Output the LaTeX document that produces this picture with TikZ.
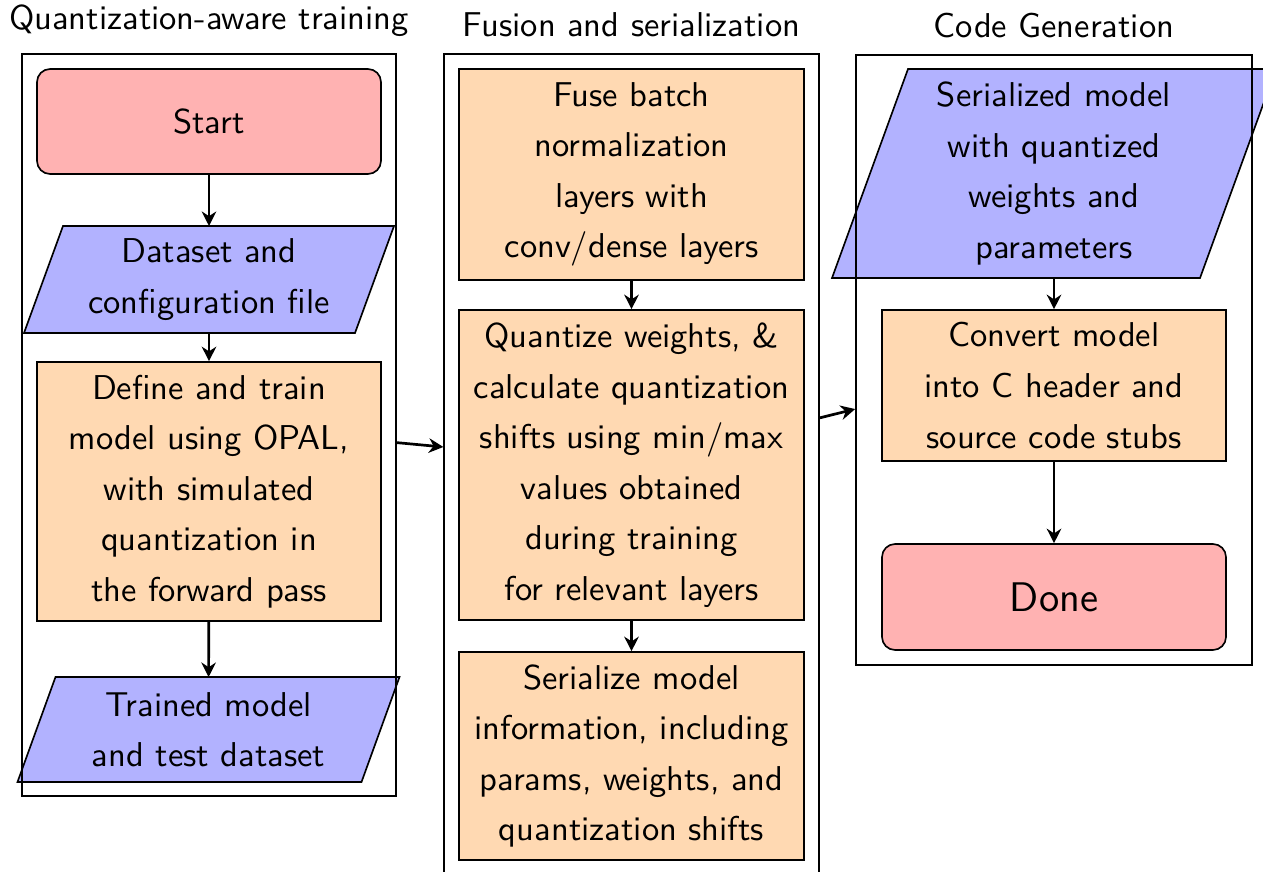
\documentclass[tikz,border=0pt]{standalone}
\usetikzlibrary{fit,arrows.meta,backgrounds}
% one drawing unit of the layout grid
\newcommand\pxu{0.29pt}
\newcommand\flowtxt{\sffamily\fontsize{10}{14.65}\selectfont}
\newcommand\bigtxt{\sffamily\fontsize{12}{14.65}\selectfont}
\tikzset{
  base/.style={draw, line width=0.48pt, align=center, inner sep=1pt, font=\flowtxt},
  startstop/.style={base, rectangle, rounded corners=3.8pt, fill=red!30, minimum width=344*\pxu},
  % data nodes: the node is the body of the parallelogram, the slanted outline is added behind it
  io/.style={base, rectangle, draw=none, outer sep=0pt},
  iofill/.style={draw, line width=0.48pt, fill=blue!30},
  process/.style={base, rectangle, fill=orange!30, minimum width=345*\pxu},
  group/.style={draw, line width=0.48pt, inner sep=14*\pxu},
  flow/.style={line width=0.78pt, -{Stealth[length=4.2pt,width=4.2pt]}},
  grouptitle/.style={font=\flowtxt, label distance=1.3pt}
}
% #1 node name, #2 horizontal offset of the slanted sides
\newcommand\dataoutline[2]{%
  \begin{pgfonlayer}{background}
    \path[iofill] ([xshift=#2/2]#1.north west) -- ([xshift=#2/2]#1.north east)
      -- ([xshift=-#2/2]#1.south east) -- ([xshift=-#2/2]#1.south west) -- cycle;
  \end{pgfonlayer}}
\begin{document}
\begin{tikzpicture}[x=\pxu, y=-\pxu]
\path[use as bounding box, clip] (0,0) rectangle (1263,871);

% Quantization-aware training
\node[startstop, minimum height=105*\pxu] (start) at (209,121.5) {Start};
\node[io, minimum width=331*\pxu, minimum height=107*\pxu] (data) at (209,279.5)
  {Dataset and\\configuration file};
\dataoutline{data}{39*\pxu}
\node[process, minimum width=344*\pxu, minimum height=259*\pxu] (train) at (209,491.5)
  {Define and train\\model using OPAL,\\with simulated\\quantization in\\the forward pass};
\node[io, minimum width=344*\pxu, minimum height=105*\pxu] (trained) at (208.5,729.5)
  {Trained model\\and test dataset};
\dataoutline{trained}{38*\pxu}

% Fusion and serialization
\node[process, minimum height=211*\pxu] (fuse) at (631.5,174.5)
  {Fuse batch\\normalization\\layers with\\conv/dense layers};
\node[process, minimum height=310*\pxu] (quant) at (631.5,465)
  {Quantize weights, \&\\calculate quantization\\shifts using min/max\\values obtained\\during training\\for relevant layers};
\node[process, minimum height=208*\pxu] (serial) at (631.5,756)
  {Serialize model\\information, including\\params, weights, and\\quantization shifts};

% Code generation
\node[io, minimum width=368*\pxu, minimum height=209*\pxu] (smodel) at (1054,173.5)
  {Serialized model\\with quantized\\weights and\\parameters};
\dataoutline{smodel}{76*\pxu}
\node[process, minimum width=344*\pxu, minimum height=151*\pxu] (convert) at (1054,385.5)
  {Convert model\\into C header and\\source code stubs};
\node[startstop, minimum height=106*\pxu, font=\bigtxt] (done) at (1054,597) {Done};

% steps inside each stage
\draw[flow] (start) -- (data);
\draw[flow] (data) -- (train);
\draw[flow] (train) -- (trained);
\draw[flow] (fuse) -- (quant);
\draw[flow] (quant) -- (serial);
\draw[flow] (smodel) -- (convert);
\draw[flow] (convert) -- (done);

% stage frames
\node[group, fit=(start)(trained),
  label={[grouptitle]above:Quantization-aware training}] (qat) {};
\node[group, fit=(fuse)(serial),
  label={[grouptitle]above:Fusion and serialization}] (fus) {};
\node[group, fit=(smodel)(done),
  label={[grouptitle]above:Code Generation}] (gen) {};

% hand-over between stages
\draw[flow] (qat) -- (fus);
\draw[flow] (fus) -- (gen);
\end{tikzpicture}
\end{document}
